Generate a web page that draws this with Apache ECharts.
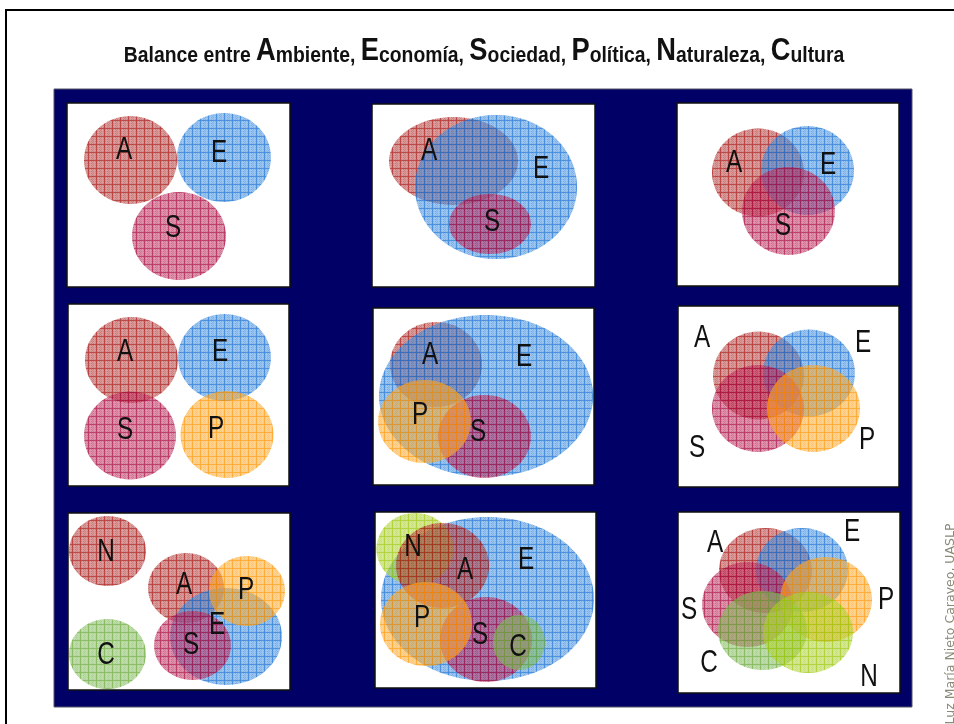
<!DOCTYPE html>
<html><head><meta charset="utf-8">
<script src="https://cdn.jsdelivr.net/npm/echarts@6/dist/echarts.min.js"></script>
<style>html,body{margin:0;padding:0;background:#fff}#c{width:954px;height:724px}</style>
</head><body><div id="c"></div>
<script>
// ---- data: each ellipse = [label, cx, cy, rx, ry, labelX, labelY] in panel-local units ----
const panel1 = [['A',63.5,57,46.5,44,57,47],['E',157,54.5,47,44.5,152,50],['S',112,133,47,44,106,125]];
const panel2 = [['A',81.5,57,64.5,44,57,47],['E',124,83,81,72,169,65],['S',118,120,41,30,120,118]];
const panel3 = [['A',81,69.5,46,44,57,60],['E',130.5,67.5,46.5,44.5,151,62],['S',111.5,108,46.5,44,106,123]];
const panel4 = [['A',63.5,56,46.5,43,57,48],['E',156.5,53.5,46.5,43.5,152,48],['S',62,131.5,46,44,57,126],['P',159,130.5,46.5,43.5,148,125]];
const panel5 = [['A',63,56.5,46,42.5,57,47],['E',113,88,107,81,151,49],['S',111.5,128.5,46.5,41.5,105,124],['P',51.5,113.5,46.5,41.5,47,107]];
const panel6 = [['A',80.5,69.5,45.5,44,24,32],['E',131,67,46,43.5,185,37],['S',80,102.5,46,43.5,19,142],['P',135.5,102.5,46.5,43.5,189,134]];
const panel7 = [['N',39.5,38,38.5,35,38,39],['C',39.5,141,38.5,35,38,142],['A',118,75,38,35,116,72],['E',158,123.5,56,48.5,149,112],['S',124.5,132.5,38.5,34.5,123,132],['P',179,78,38,35,178,77]];
const panel8 = [['E',112.5,87,106.5,82,151,48],['N',40,37,38.5,36,38,35],['A',67.5,53.5,46.5,42.5,90,58],['S',111,127.5,46,42.5,105,123],['P',51,112,46,42,47,106],['C',144,130.5,26,27.5,143,135]];
const panel9 = [['A',87.5,58.5,46.5,42.5,37,31],['E',124,58,46,42,174,20],['S',69.5,92.5,45.5,42.5,11,98],['P',148,87.5,46,42.5,208,88],['C',84.5,118.5,44.5,39.5,31,151],['N',130,120.5,45,40.5,191,165]];
const panelData = [panel1,panel2,panel3,panel4,panel5,panel6,panel7,panel8,panel9];
const titleParts = [['Balance entre ',''],['A','mbiente, '],['E','conomía, '],['S','ociedad, '],['P','olítica, '],['N','aturaleza, '],['C','ultura']];
const creditText = 'Luz María Nieto Caraveo, UASLP';

// ---- layout (page pixels) ----
const panelRects = [
  [67,103,223,184],[372,104,223,183],[677,103,222,183],
  [68,304,221,182],[373,308,221,177],[678,306,221,181],
  [68,513,222,177],[375,512,221,176],[678,512,222,181]
];
// ---- styles ----
const palette = {
  A:{base:[180,55,52], line:[165,15,15]},
  E:{base:[55,140,222], line:[20,110,212]},
  S:{base:[188,40,90], line:[165,5,55]},
  P:{base:[255,168,35], line:[255,148,0]},
  C:{base:[128,188,88], line:[105,168,55]},
  N:{base:[172,210,40], line:[155,198,5]}
};
const colorOverride = {6:{N:'A'}};

function rgba(c,a){return 'rgba('+c[0]+','+c[1]+','+c[2]+','+a+')';}
const patternCache = {};
function pattern(key){
  if (patternCache[key]) return patternCache[key];
  const p = palette[key];
  const cv = document.createElement('canvas'); cv.width = 8; cv.height = 8;
  const g = cv.getContext('2d');
  g.fillStyle = rgba(p.base,0.5); g.fillRect(0,0,8,8);
  g.fillStyle = rgba(p.base,0.3);
  for (let y=0;y<8;y++) for (let x=0;x<8;x++) if ((x+y)%2===0 && (x%4)!==2) g.fillRect(x,y,1,1);
  g.fillStyle = rgba(p.line,0.55);
  g.fillRect(0,0,8,1); g.fillRect(0,1,1,7);
  patternCache[key] = {image:cv, repeat:'repeat'};
  return patternCache[key];
}

const FONT = "'Liberation Sans',Arial,sans-serif";
const grids=[], xAxes=[], yAxes=[], series=[];
panelRects.forEach((r,i)=>{
  grids.push({left:r[0],top:r[1],width:r[2],height:r[3],show:true,backgroundColor:'#ffffff',borderColor:'#111',borderWidth:1.5,z:2});
  xAxes.push({gridIndex:i,type:'value',min:0,max:r[2],show:false});
  yAxes.push({gridIndex:i,type:'value',min:0,max:r[3],inverse:true,show:false});
  const items = panelData[i];
  series.push({
    type:'custom', coordinateSystem:'cartesian2d', xAxisIndex:i, yAxisIndex:i, z:3, silent:true,
    data: items.map(d=>({name:d[0], value:[d[1],d[2],d[3],d[4],d[5],d[6]]})),
    renderItem:function(params, api){
      const d = items[params.dataIndex];
      const key = (colorOverride[i] && colorOverride[i][d[0]]) || d[0];
      const c = api.coord([api.value(0), api.value(1)]);
      const s = api.size([api.value(2), api.value(3)]);
      const l = api.coord([api.value(4), api.value(5)]);
      return {type:'group', children:[
        {type:'ellipse', z2:params.dataIndex, shape:{cx:c[0],cy:c[1],rx:s[0],ry:s[1]}, style:{fill:pattern(key)}},
        {type:'text', z2:100, x:l[0], y:l[1], scaleX:0.76, style:{text:d[0], fill:'#111', font:'32px '+FONT, textAlign:'center', textVerticalAlign:'middle'}}
      ]};
    }
  });
});

let titleText = '';
titleParts.forEach(p=>{ if (p[0].length===1) titleText += '{b|'+p[0]+'}'; else titleText += '{s|'+p[0]+'}'; if (p[1]) titleText += '{s|'+p[1]+'}'; });

const chart = echarts.init(document.getElementById('c'), null, {renderer:'canvas'});
chart.setOption({
  animation:false,
  backgroundColor:'#ffffff',
  graphic:[
    {type:'rect', z:-10, shape:{x:6,y:10,width:1000,height:800}, style:{fill:'none', stroke:'#000', lineWidth:2}},
    {type:'rect', z:-9, shape:{x:54,y:89,width:858,height:618}, style:{fill:'#000066', stroke:'#555566', lineWidth:1}},
    {type:'text', z:5, x:484, y:51, scaleX:0.88, style:{text:titleText, textAlign:'center', textVerticalAlign:'middle', rich:{
      s:{fontSize:22, fontFamily:FONT, fontWeight:'bold', fill:'#111', verticalAlign:'bottom', lineHeight:31},
      b:{fontSize:31, fontFamily:FONT, fontWeight:'bold', fill:'#111', verticalAlign:'bottom', lineHeight:31}
    }}},
    {type:'text', z:5, x:951, y:624, rotation:Math.PI/2, style:{text:creditText, fill:'#8a8a78', font:'12.5px DejaVu Sans, sans-serif', textAlign:'center', textVerticalAlign:'middle'}}
  ],
  grid:grids, xAxis:xAxes, yAxis:yAxes, series:series
});
</script></body></html>
